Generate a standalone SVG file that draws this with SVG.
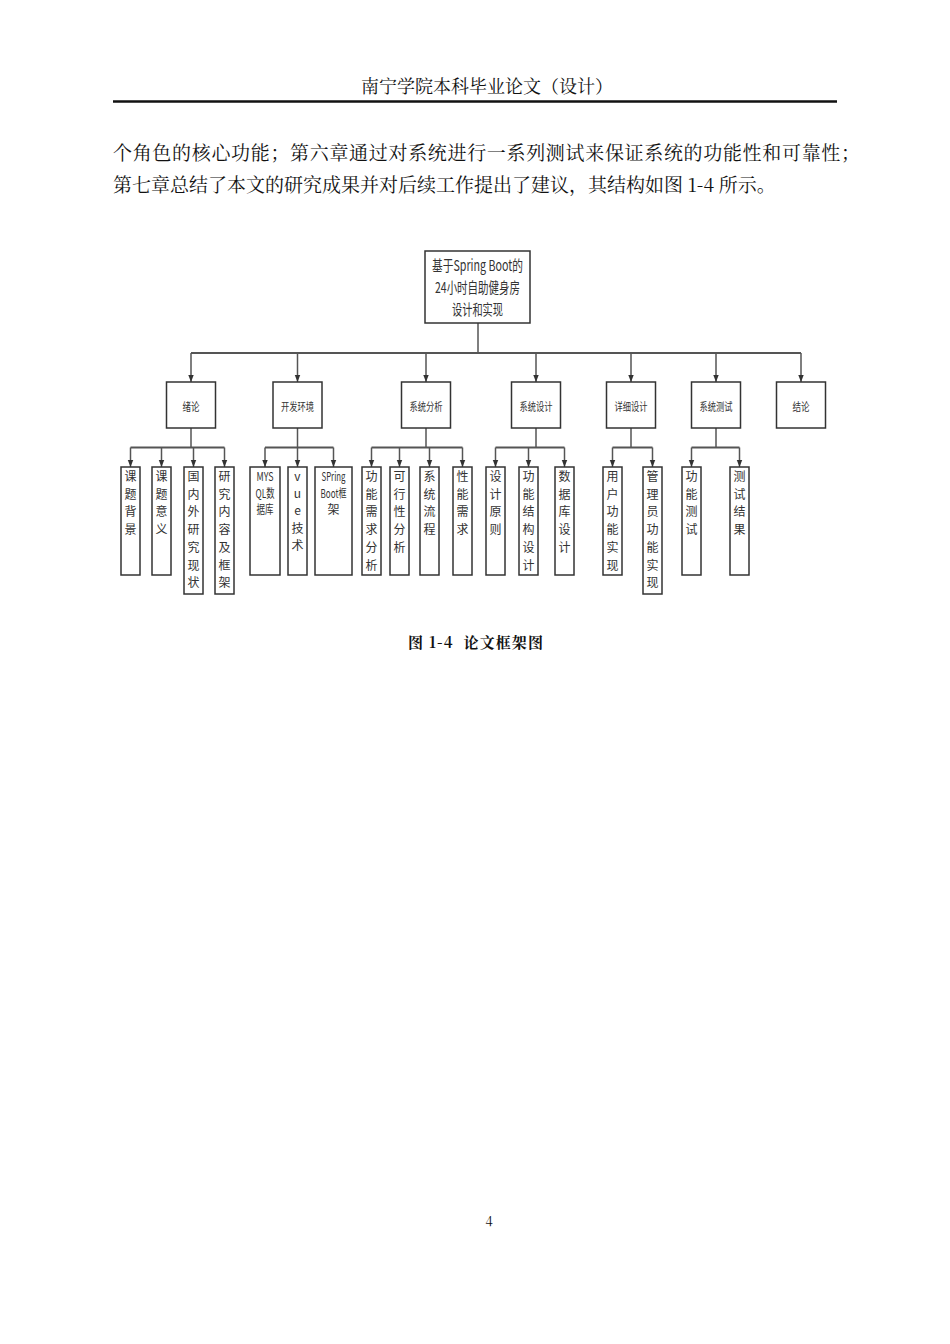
<svg xmlns="http://www.w3.org/2000/svg" width="950" height="1344" viewBox="0 0 950 1344">
<style>
.page{fill:#fff}
.serif{font-family:"Noto Serif CJK SC","Liberation Serif","Noto Sans CJK SC",serif;fill:#111}
.box{fill:#fff;stroke:#333;stroke-width:1.5}
.nt{font-family:"Noto Sans CJK SC","Liberation Sans",sans-serif;fill:#333;text-anchor:middle}
.l1{font-size:11px}
.lf{font-size:12px}
.rt{font-size:15px}
.con{fill:none;stroke:#555;stroke-width:1.5}
.bar{fill:none;stroke:#555;stroke-width:2}
</style>
<defs>
<marker id="ah" markerUnits="userSpaceOnUse" markerWidth="7" markerHeight="9" refX="9" refY="3.5" orient="auto" viewBox="0 0 9 7">
<path d="M0,0 L9,3.5 L0,7 Z" fill="#333"/>
</marker>
</defs>
<rect class="page" x="0" y="0" width="950" height="1344"/>

<!-- header -->
<text class="serif" x="487" y="93" font-size="18" text-anchor="middle">南宁学院本科毕业论文（设计）</text>
<line x1="113" y1="101.5" x2="837" y2="101.5" stroke="#111" stroke-width="2.4"/>
<text class="serif" x="113" y="160" font-size="19" textLength="747" lengthAdjust="spacing">个角色的核心功能；第六章通过对系统进行一系列测试来保证系统的功能性和可靠性；</text>
<text class="serif" x="113" y="192" font-size="19">第七章总结了本文的研究成果并对后续工作提出了建议，其结构如图 1-4 所示。</text>

<!-- connectors -->
<g id="connectors">
<line class="con" x1="478" y1="323" x2="478" y2="353"/>
<line class="bar" x1="191" y1="353" x2="801" y2="353"/>
<line class="con" x1="191" y1="353" x2="191" y2="382" marker-end="url(#ah)"/>
<line class="con" x1="297.5" y1="353" x2="297.5" y2="382" marker-end="url(#ah)"/>
<line class="con" x1="426" y1="353" x2="426" y2="382" marker-end="url(#ah)"/>
<line class="con" x1="536" y1="353" x2="536" y2="382" marker-end="url(#ah)"/>
<line class="con" x1="631" y1="353" x2="631" y2="382" marker-end="url(#ah)"/>
<line class="con" x1="716" y1="353" x2="716" y2="382" marker-end="url(#ah)"/>
<line class="con" x1="801" y1="353" x2="801" y2="382" marker-end="url(#ah)"/>

<!-- group 1 -->
<line class="con" x1="191" y1="428" x2="191" y2="447.5"/>
<line class="bar" x1="130.5" y1="447.5" x2="224.5" y2="447.5"/>
<line class="con" x1="130.5" y1="447.5" x2="130.5" y2="467" marker-end="url(#ah)"/>
<line class="con" x1="161.5" y1="447.5" x2="161.5" y2="467" marker-end="url(#ah)"/>
<line class="con" x1="193.5" y1="447.5" x2="193.5" y2="467" marker-end="url(#ah)"/>
<line class="con" x1="224.5" y1="447.5" x2="224.5" y2="467" marker-end="url(#ah)"/>
<!-- group 2 -->
<line class="con" x1="297.5" y1="428" x2="297.5" y2="447.5"/>
<line class="bar" x1="265" y1="447.5" x2="333.5" y2="447.5"/>
<line class="con" x1="265" y1="447.5" x2="265" y2="467" marker-end="url(#ah)"/>
<line class="con" x1="297.5" y1="447.5" x2="297.5" y2="467" marker-end="url(#ah)"/>
<line class="con" x1="333.5" y1="447.5" x2="333.5" y2="467" marker-end="url(#ah)"/>
<!-- group 3 -->
<line class="con" x1="426" y1="428" x2="426" y2="447.5"/>
<line class="bar" x1="371.5" y1="447.5" x2="462.5" y2="447.5"/>
<line class="con" x1="371.5" y1="447.5" x2="371.5" y2="467" marker-end="url(#ah)"/>
<line class="con" x1="399.5" y1="447.5" x2="399.5" y2="467" marker-end="url(#ah)"/>
<line class="con" x1="429.5" y1="447.5" x2="429.5" y2="467" marker-end="url(#ah)"/>
<line class="con" x1="462.5" y1="447.5" x2="462.5" y2="467" marker-end="url(#ah)"/>
<!-- group 4 -->
<line class="con" x1="536" y1="428" x2="536" y2="447.5"/>
<line class="bar" x1="495.5" y1="447.5" x2="564.5" y2="447.5"/>
<line class="con" x1="495.5" y1="447.5" x2="495.5" y2="467" marker-end="url(#ah)"/>
<line class="con" x1="528.5" y1="447.5" x2="528.5" y2="467" marker-end="url(#ah)"/>
<line class="con" x1="564.5" y1="447.5" x2="564.5" y2="467" marker-end="url(#ah)"/>
<!-- group 5 -->
<line class="con" x1="631" y1="428" x2="631" y2="447.5"/>
<line class="bar" x1="612.5" y1="447.5" x2="652.5" y2="447.5"/>
<line class="con" x1="612.5" y1="447.5" x2="612.5" y2="467" marker-end="url(#ah)"/>
<line class="con" x1="652.5" y1="447.5" x2="652.5" y2="467" marker-end="url(#ah)"/>
<!-- group 6 -->
<line class="con" x1="716" y1="428" x2="716" y2="447.5"/>
<line class="bar" x1="691.5" y1="447.5" x2="739.5" y2="447.5"/>
<line class="con" x1="691.5" y1="447.5" x2="691.5" y2="467" marker-end="url(#ah)"/>
<line class="con" x1="739.5" y1="447.5" x2="739.5" y2="467" marker-end="url(#ah)"/>
</g>

<!-- root -->
<g id="root">
<rect class="box" x="425" y="251" width="105" height="72"/>
<text class="nt rt" x="477.5" y="271.4" textLength="91" lengthAdjust="spacingAndGlyphs">基于Spring Boot的</text>
<text class="nt rt" x="477.5" y="293.2" textLength="85" lengthAdjust="spacingAndGlyphs">24小时自助健身房</text>
<text class="nt rt" x="477.5" y="314.7" textLength="51" lengthAdjust="spacingAndGlyphs">设计和实现</text>
</g>

<!-- level 1 -->
<g id="n-xulun"><rect class="box" x="166.5" y="382" width="49" height="46"/><text class="nt l1" x="191" y="411" textLength="17" lengthAdjust="spacingAndGlyphs">绪论</text></g>
<g id="n-kaifa"><rect class="box" x="273" y="382" width="49" height="46"/><text class="nt l1" x="297.5" y="411" textLength="33" lengthAdjust="spacingAndGlyphs">开发环境</text></g>
<g id="n-fenxi"><rect class="box" x="401.5" y="382" width="49" height="46"/><text class="nt l1" x="426" y="411" textLength="33" lengthAdjust="spacingAndGlyphs">系统分析</text></g>
<g id="n-sheji"><rect class="box" x="511.5" y="382" width="49" height="46"/><text class="nt l1" x="536" y="411" textLength="33" lengthAdjust="spacingAndGlyphs">系统设计</text></g>
<g id="n-xiangxi"><rect class="box" x="606.5" y="382" width="49" height="46"/><text class="nt l1" x="631" y="411" textLength="33" lengthAdjust="spacingAndGlyphs">详细设计</text></g>
<g id="n-ceshi"><rect class="box" x="691.5" y="382" width="49" height="46"/><text class="nt l1" x="716" y="411" textLength="33" lengthAdjust="spacingAndGlyphs">系统测试</text></g>
<g id="n-jielun"><rect class="box" x="776.5" y="382" width="49" height="46"/><text class="nt l1" x="801" y="411" textLength="17" lengthAdjust="spacingAndGlyphs">结论</text></g>

<!-- leaves group 1 -->
<g id="n-bg"><rect class="box" x="121" y="467" width="19" height="108"/>
<text class="nt lf" y="481"><tspan x="130.5">课</tspan><tspan x="130.5" dy="17.7">题</tspan><tspan x="130.5" dy="17.7">背</tspan><tspan x="130.5" dy="17.7">景</tspan></text></g>
<g id="n-yy"><rect class="box" x="152" y="467" width="19" height="108"/>
<text class="nt lf" y="481"><tspan x="161.5">课</tspan><tspan x="161.5" dy="17.7">题</tspan><tspan x="161.5" dy="17.7">意</tspan><tspan x="161.5" dy="17.7">义</tspan></text></g>
<g id="n-gn"><rect class="box" x="184" y="467" width="19" height="127"/>
<text class="nt lf" y="481"><tspan x="193.5">国</tspan><tspan x="193.5" dy="17.7">内</tspan><tspan x="193.5" dy="17.7">外</tspan><tspan x="193.5" dy="17.7">研</tspan><tspan x="193.5" dy="17.7">究</tspan><tspan x="193.5" dy="17.7">现</tspan><tspan x="193.5" dy="17.7">状</tspan></text></g>
<g id="n-yj"><rect class="box" x="215" y="467" width="19" height="127"/>
<text class="nt lf" y="481"><tspan x="224.5">研</tspan><tspan x="224.5" dy="17.7">究</tspan><tspan x="224.5" dy="17.7">内</tspan><tspan x="224.5" dy="17.7">容</tspan><tspan x="224.5" dy="17.7">及</tspan><tspan x="224.5" dy="17.7">框</tspan><tspan x="224.5" dy="17.7">架</tspan></text></g>

<!-- leaves group 2 -->
<g id="n-mysql"><rect class="box" x="250" y="467" width="30" height="108"/>
<text class="nt lf" x="265" y="481" textLength="17" lengthAdjust="spacingAndGlyphs">MYS</text>
<text class="nt lf" x="265" y="497.5" textLength="19" lengthAdjust="spacingAndGlyphs">QL数</text>
<text class="nt lf" x="265" y="514" textLength="17" lengthAdjust="spacingAndGlyphs">据库</text></g>
<g id="n-vue"><rect class="box" x="288" y="467" width="19" height="108"/>
<text class="nt lf" y="481"><tspan x="297.5">v</tspan><tspan x="297.5" dy="17">u</tspan><tspan x="297.5" dy="17">e</tspan><tspan x="297.5" dy="17.5">技</tspan><tspan x="297.5" dy="17.5">术</tspan></text></g>
<g id="n-spring"><rect class="box" x="315" y="467" width="37" height="108"/>
<text class="nt lf" x="333.5" y="481" textLength="24" lengthAdjust="spacingAndGlyphs">SPring</text>
<text class="nt lf" x="333.5" y="497.5" textLength="26" lengthAdjust="spacingAndGlyphs">Boot框</text>
<text class="nt lf" x="333.5" y="514">架</text></g>

<!-- leaves group 3 -->
<g id="n-gnxq"><rect class="box" x="362" y="467" width="19" height="108"/>
<text class="nt lf" y="481"><tspan x="371.5">功</tspan><tspan x="371.5" dy="17.7">能</tspan><tspan x="371.5" dy="17.7">需</tspan><tspan x="371.5" dy="17.7">求</tspan><tspan x="371.5" dy="17.7">分</tspan><tspan x="371.5" dy="17.7">析</tspan></text></g>
<g id="n-kx"><rect class="box" x="390" y="467" width="19" height="108"/>
<text class="nt lf" y="481"><tspan x="399.5">可</tspan><tspan x="399.5" dy="17.7">行</tspan><tspan x="399.5" dy="17.7">性</tspan><tspan x="399.5" dy="17.7">分</tspan><tspan x="399.5" dy="17.7">析</tspan></text></g>
<g id="n-lc"><rect class="box" x="420" y="467" width="19" height="108"/>
<text class="nt lf" y="481"><tspan x="429.5">系</tspan><tspan x="429.5" dy="17.7">统</tspan><tspan x="429.5" dy="17.7">流</tspan><tspan x="429.5" dy="17.7">程</tspan></text></g>
<g id="n-xn"><rect class="box" x="453" y="467" width="19" height="108"/>
<text class="nt lf" y="481"><tspan x="462.5">性</tspan><tspan x="462.5" dy="17.7">能</tspan><tspan x="462.5" dy="17.7">需</tspan><tspan x="462.5" dy="17.7">求</tspan></text></g>

<!-- leaves group 4 -->
<g id="n-yz"><rect class="box" x="486" y="467" width="19" height="108"/>
<text class="nt lf" y="481"><tspan x="495.5">设</tspan><tspan x="495.5" dy="17.7">计</tspan><tspan x="495.5" dy="17.7">原</tspan><tspan x="495.5" dy="17.7">则</tspan></text></g>
<g id="n-jg"><rect class="box" x="519" y="467" width="19" height="108"/>
<text class="nt lf" y="481"><tspan x="528.5">功</tspan><tspan x="528.5" dy="17.7">能</tspan><tspan x="528.5" dy="17.7">结</tspan><tspan x="528.5" dy="17.7">构</tspan><tspan x="528.5" dy="17.7">设</tspan><tspan x="528.5" dy="17.7">计</tspan></text></g>
<g id="n-sjk"><rect class="box" x="555" y="467" width="19" height="108"/>
<text class="nt lf" y="481"><tspan x="564.5">数</tspan><tspan x="564.5" dy="17.7">据</tspan><tspan x="564.5" dy="17.7">库</tspan><tspan x="564.5" dy="17.7">设</tspan><tspan x="564.5" dy="17.7">计</tspan></text></g>

<!-- leaves group 5 -->
<g id="n-yh"><rect class="box" x="603" y="467" width="19" height="108"/>
<text class="nt lf" y="481"><tspan x="612.5">用</tspan><tspan x="612.5" dy="17.7">户</tspan><tspan x="612.5" dy="17.7">功</tspan><tspan x="612.5" dy="17.7">能</tspan><tspan x="612.5" dy="17.7">实</tspan><tspan x="612.5" dy="17.7">现</tspan></text></g>
<g id="n-gly"><rect class="box" x="643" y="467" width="19" height="127"/>
<text class="nt lf" y="481"><tspan x="652.5">管</tspan><tspan x="652.5" dy="17.7">理</tspan><tspan x="652.5" dy="17.7">员</tspan><tspan x="652.5" dy="17.7">功</tspan><tspan x="652.5" dy="17.7">能</tspan><tspan x="652.5" dy="17.7">实</tspan><tspan x="652.5" dy="17.7">现</tspan></text></g>

<!-- leaves group 6 -->
<g id="n-gncs"><rect class="box" x="682" y="467" width="19" height="108"/>
<text class="nt lf" y="481"><tspan x="691.5">功</tspan><tspan x="691.5" dy="17.7">能</tspan><tspan x="691.5" dy="17.7">测</tspan><tspan x="691.5" dy="17.7">试</tspan></text></g>
<g id="n-csjg"><rect class="box" x="730" y="467" width="19" height="108"/>
<text class="nt lf" y="481"><tspan x="739.5">测</tspan><tspan x="739.5" dy="17.7">试</tspan><tspan x="739.5" dy="17.7">结</tspan><tspan x="739.5" dy="17.7">果</tspan></text></g>

<!-- caption and page number -->
<text class="serif" x="408" y="648" font-size="15" font-weight="bold" textLength="135" lengthAdjust="spacing" xml:space="preserve">图 1-4  论文框架图</text>
<text class="serif" x="489" y="1226" font-size="13" text-anchor="middle">4</text>
</svg>
